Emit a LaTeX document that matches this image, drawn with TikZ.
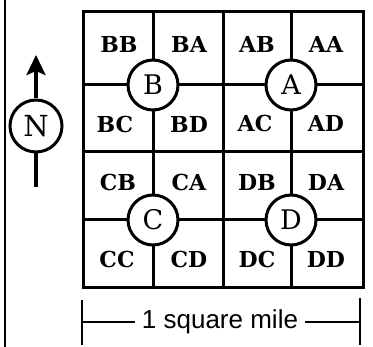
\documentclass[tikz,border=0pt]{standalone}
\usepackage{fontspec}
\setmainfont{DejaVu Serif}
\setsansfont{Liberation Sans}
\usetikzlibrary{positioning,arrows.meta}

\begin{document}
\begin{tikzpicture}[x=1pt, y=-1pt, line width=3pt,
    plot/.style={font=\bfseries\fontsize{22}{22}\selectfont},
    sect/.style={circle, draw, fill=white, minimum size=50pt, inner sep=0pt, font=\fontsize{27}{27}\selectfont}]
  \useasboundingbox (0,0) rectangle (373,347);
  \draw [line width=2.4pt] (5,0) -- (5,347);
  % grid
  \draw (83,12) rectangle (363,288);
  \foreach \x in {153,223,291} \draw (\x,12) -- (\x,288);
  \foreach \y in {85,152,220} \draw (83,\y) -- (363,\y);
  % quarter sections
  \node [sect] (B) at (153,85) {B};
  \node [sect] (A) at (291,85) {A};
  \node [sect] (C) at (153,220) {C};
  \node [sect] (D) at (291,220) {D};
  \foreach \name/\x/\y in {BB/119/44, BA/189/44, AB/257/44, AA/326/44,
      BC/115/124, BD/189/124, AC/255/123, AD/326/123,
      CB/118/182, CA/189/182, DB/257/182, DA/326/182,
      CC/117/259, CD/189/259, DC/257/259, DD/326/259}
    \node [plot] (\name) at (\x,\y) {\name};
  % north arrow
  \node [sect, minimum size=52pt, font=\fontsize{29}{29}\selectfont] (N) at (36,126) {N};
  \coordinate (tip) at (36,55);
  \coordinate (tail) at (36,187);
  \draw [line width=3.4pt, -{Stealth[length=20pt, width=19pt, inset=4pt]}] (N) -- (tip);
  \draw [line width=3.8pt] (N) -- (tail);
  % scale bar
  \node [font=\sffamily\fontsize{26}{26}\selectfont, inner xsep=5pt] (mile) at (220,322) {1 square mile};
  \coordinate (west) at (82,322);
  \coordinate (east) at (360,322);
  \draw [line width=2.2pt] (west) -- (mile) (mile) -- (east);
  \draw [line width=2.6pt] ([yshift=22pt]west) -- ([yshift=-23pt]west);
  \draw [line width=2.6pt] ([yshift=24pt]east) -- ([yshift=-23pt]east);
\end{tikzpicture}
\end{document}
